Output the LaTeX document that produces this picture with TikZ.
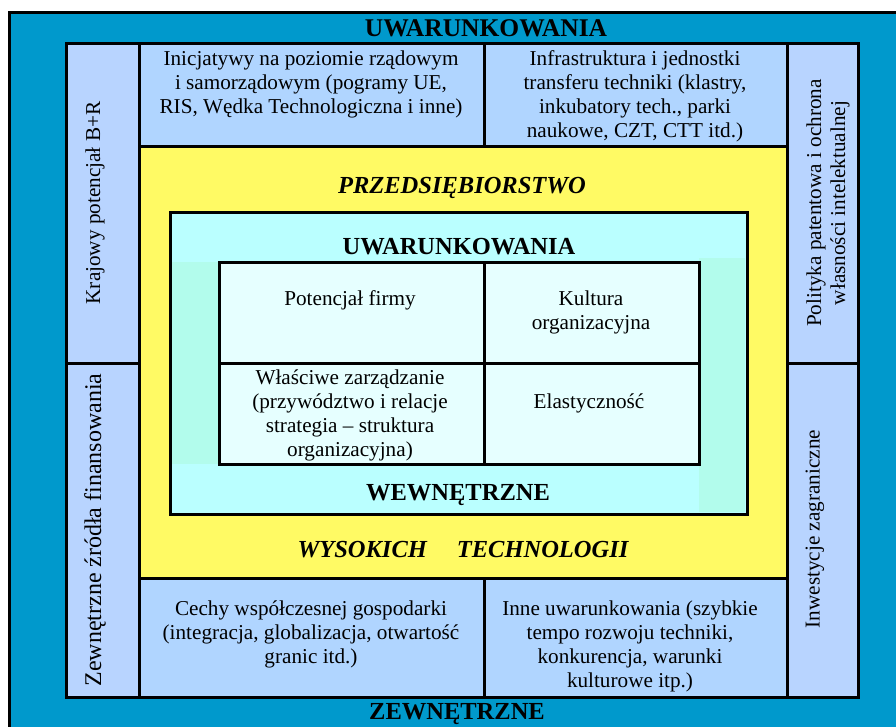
\documentclass[tikz,border=0pt]{standalone}
\usepackage{fontspec}
\setmainfont{Liberation Serif}

\definecolor{outerblue}{RGB}{0,153,204}
\definecolor{sideblue}{RGB}{184,212,255}
\definecolor{boxblue}{RGB}{176,213,255}
\definecolor{sunyellow}{RGB}{255,250,100}
\definecolor{corecyan}{RGB}{186,255,255}
\definecolor{coremint}{RGB}{178,252,236}
\definecolor{cellcyan}{RGB}{230,255,255}

\begin{document}
\begin{tikzpicture}[x=1pt,y=-1pt,line width=3pt,
  txt/.style={font=\fontsize{21.2}{24}\selectfont,align=center,inner sep=0pt},
  head/.style={font=\fontsize{24.5}{28}\selectfont\bfseries,inner sep=0pt},
  headit/.style={font=\fontsize{24.5}{28}\selectfont\bfseries\itshape,inner sep=0pt}]
\useasboundingbox (0,0) rectangle (896,726);
\fill[white] (0,0) rectangle (896,726);

% outer frame
\fill[outerblue] (9,12) rectangle (902,732);
\draw (9,732) -- (9,12) -- (902,12);

% surrounding panels
\fill[sideblue] (66,43) rectangle (139,697);
\fill[sideblue] (787,43) rectangle (858,697);
\fill[boxblue] (139,43) rectangle (787,146);
\fill[boxblue] (139,578) rectangle (787,697);
\fill[sunyellow] (139,146) rectangle (787,578);

% enterprise core
\fill[corecyan] (170,212) rectangle (747,514);
\fill[coremint] (172,262) rectangle (219,464);
\fill[coremint] (699,258) rectangle (745,512);
\fill[cellcyan] (219,262) rectangle (699,464);

% black borders
\draw (66,43) rectangle (858,697);
\draw (139,43) -- (139,697);
\draw (787,43) -- (787,697);
\draw (66,363) -- (139,363);
\draw (787,363) -- (858,363);
\draw (139,146) -- (787,146);
\draw (139,578) -- (787,578);
\draw (484,43) -- (484,146);
\draw (484,578) -- (484,697);
\draw (170,212) rectangle (747,514);
\draw (219,262) rectangle (699,464);
\draw (484,262) -- (484,464);
\draw (219,363) -- (699,363);

% headings
\node[head,font=\fontsize{25.5}{28}\selectfont\bfseries] (uwTop) at (486,28) {UWARUNKOWANIA};
\node[head] (zewBottom) at (457,714) {ZEWNĘTRZNE};
\node[headit] (przeds) at (462,188) {PRZEDSIĘBIORSTWO};
\node[head] (uwIn) at (459,247) {UWARUNKOWANIA};
\node[head] (wewn) at (458,495) {WEWNĘTRZNE};
\node[headit] (wysokich) at (463,550) {WYSOKICH\hspace*{30pt}TECHNOLOGII};

% top and bottom panels
\node[txt] (inicjatywy) at (311,84) {Inicjatywy na poziomie rządowym\\i samorządowym (pogramy UE,\\RIS, Wędka Technologiczna i inne)};
\node[txt] (infra) at (635,96) {Infrastruktura i jednostki\\transferu techniki (klastry,\\inkubatory tech., parki\\naukowe, CZT, CTT itd.)};
\node[txt] (cechy) at (311,634) {Cechy współczesnej gospodarki\\(integracja, globalizacja, otwartość\\granic itd.)};
\node[txt] (inne) at (630,646) {Inne uwarunkowania (szybkie\\tempo rozwoju techniki,\\konkurencja, warunki\\kulturowe itp.)};

% side panels
\node[txt,rotate=90] (krajowy) at (95,203) {Krajowy potencjał B+R};
\node[txt,rotate=90,font=\fontsize{24}{28}\selectfont] (zrodla) at (95,530) {Zewnętrzne źródła finansowania};
\node[txt,rotate=90] (polityka) at (828,203) {Polityka patentowa i ochrona\\własności intelektualnej};
\node[txt,rotate=90] (inwest) at (815,529) {Inwestycje zagraniczne};

% core cells
\node[txt] (potencjal) at (350,300) {Potencjał firmy};
\node[txt] (kultura) at (591,312) {Kultura\\organizacyjna};
\node[txt] (zarzadzanie) at (350,415) {Właściwe zarządzanie\\(przywództwo i relacje\\strategia – struktura\\organizacyjna)};
\node[txt] (elastycznosc) at (589,403) {Elastyczność};
\end{tikzpicture}
\end{document}
